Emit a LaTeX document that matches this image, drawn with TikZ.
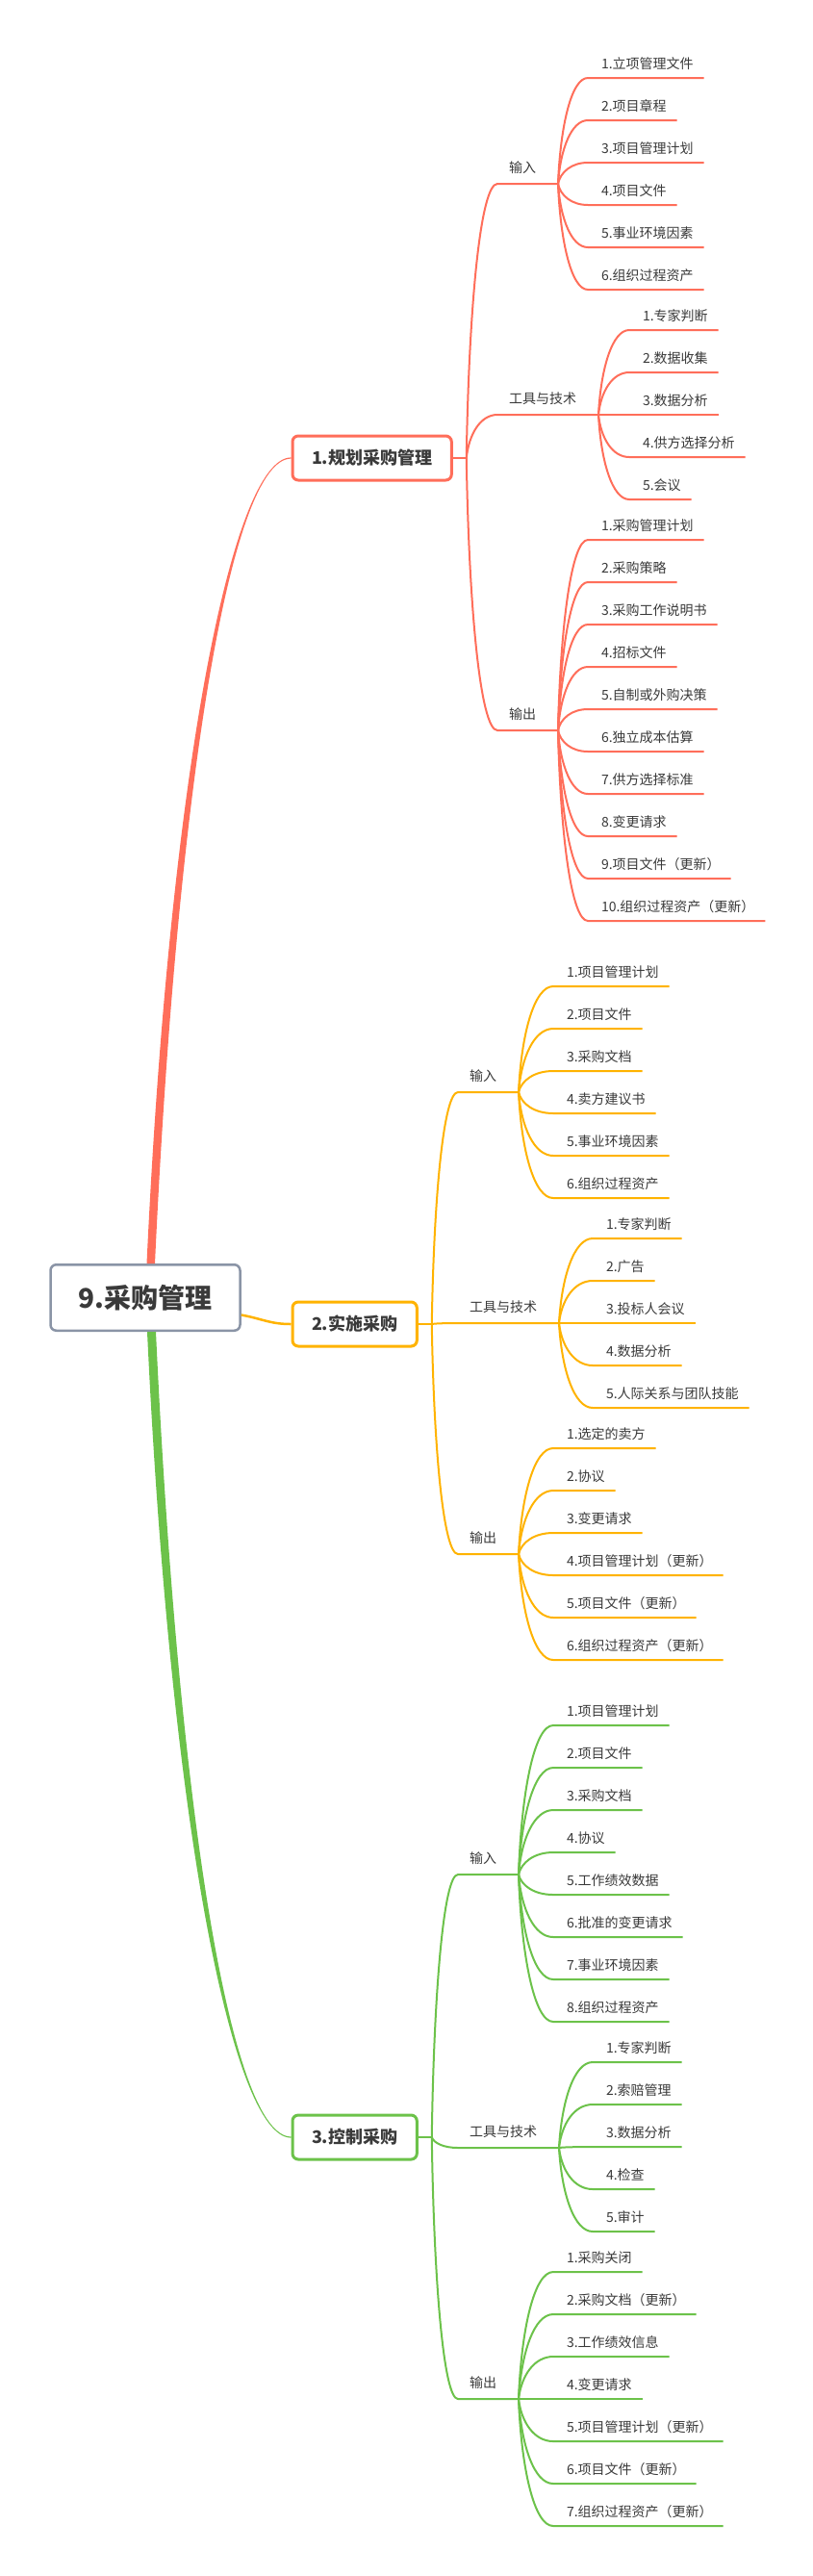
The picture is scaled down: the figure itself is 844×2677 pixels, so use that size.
\documentclass[tikz,border=0pt]{standalone}
\usepackage{fontspec}
\setmainfont{Noto Sans CJK SC}
\usetikzlibrary{calc}

\definecolor{redc}{HTML}{FF6E5A}
\definecolor{orangec}{HTML}{FFB300}
\definecolor{greenc}{HTML}{6CC24A}
\definecolor{rootgray}{HTML}{8A94A6}
\definecolor{textc}{HTML}{3A3A3A}

\tikzset{
  branch/.style={to path={let \p1=(\tikztostart), \p2=(\tikztotarget) in
      .. controls ({\x1+0.08*(\x2-\x1)},{\y1+0.55*(\y2-\y1)}) and ({\x1+0.45*(\x2-\x1)},\y2) .. (\tikztotarget) \tikztonodes}},
  rootbox/.style={draw=rootgray, line width=2.5pt, fill=white, rounded corners=6pt, text=textc,
      font=\fontsize{28pt}{32pt}\selectfont\bfseries, inner xsep=0pt, minimum width=197pt,
      minimum height=68.5pt, text height=23pt, text depth=1.7pt},
  mainbox/.style={line width=3pt, fill=white, rounded corners=6pt, text=textc, anchor=west,
      font=\fontsize{18pt}{22pt}\selectfont\bfseries, inner xsep=20pt, minimum height=46pt,
      text height=15pt, text depth=1.5pt},
  lbl/.style={anchor=south west, inner sep=0pt, text=textc, font=\fontsize{14pt}{16pt}\selectfont,
      text height=12pt},
  sub/.style={lbl, text depth=10.7pt,
      execute at begin node={\hspace*{11pt}}, execute at end node={\hspace*{22pt}}},
  leaf/.style={lbl, text depth=8.7pt,
      execute at begin node={\hspace*{13pt}}, execute at end node={\hspace*{10pt}}}
}

\begin{document}
\begin{tikzpicture}[x=1pt, y=-1pt]
  \useasboundingbox (0,0) rectangle (844,2677);
  \fill[white] (0,0) rectangle (844,2677);

  % main nodes
  \node[rootbox] (root) at (151,1348.5) {9.采购管理};
  \node[mainbox, draw=redc] (b1) at (302.5,476) {1.规划采购管理};
  \node[mainbox, draw=orangec] (b2) at (302.5,1376) {2.实施采购};
  \node[mainbox, draw=greenc] (b3) at (302.5,2221) {3.控制采购};

  % main branches
  \fill[redc] ([xshift=1.5pt]root.north) .. controls +(24,-512) and +(-61,0) .. ([yshift=0.6pt]b1.west)
    -- ([yshift=-0.6pt]b1.west) .. controls +(-61,0) and +(24,-512) .. ([xshift=10pt]root.north) -- cycle;
  \fill[greenc] ([xshift=2pt]root.south) .. controls +(24,512) and +(-61,0) .. ([yshift=-0.6pt]b3.west)
    -- ([yshift=0.6pt]b3.west) .. controls +(-61,0) and +(24,512) .. ([xshift=11pt]root.south) -- cycle;
  \draw[orangec, line width=2.5pt] ([yshift=-18pt]root.east) .. controls +(22,4) and +(-22,0) .. (b2.west);

  % 1. planning
  \begin{scope}[color=redc, line width=2pt, line join=round]
    \coordinate (b1j) at ([xshift=14pt]b1.east);
    \draw (b1.east) -- (b1j);
    \node[sub] (b1in) at (517,191) {输入};
    \node[sub] (b1tool) at (517,431) {工具与技术};
    \node[sub] (b1out) at (517,759) {输出};
    \foreach \s in {b1in,b1tool,b1out}
      \draw (b1j) to[branch] (\s.south west) -- (\s.south east);
    \foreach \txt [count=\i from 0] in {1.立项管理文件,2.项目章程,3.项目管理计划,4.项目文件,5.事业环境因素,6.组织过程资产} {
      \node[leaf] (b1in-\i) at (611,{81+44*\i}) {\txt};
      \draw (b1in.south east) to[branch] (b1in-\i.south west) -- (b1in-\i.south east);
    }
    \foreach \txt [count=\i from 0] in {1.专家判断,2.数据收集,3.数据分析,4.供方选择分析,5.会议} {
      \node[leaf] (b1tool-\i) at (654,{343+44*\i}) {\txt};
      \draw (b1tool.south east) to[branch] (b1tool-\i.south west) -- (b1tool-\i.south east);
    }
    \foreach \txt [count=\i from 0] in {1.采购管理计划,2.采购策略,3.采购工作说明书,4.招标文件,5.自制或外购决策,6.独立成本估算,7.供方选择标准,8.变更请求,9.项目文件（更新）,10.组织过程资产（更新）} {
      \node[leaf] (b1out-\i) at (611,{561+44*\i}) {\txt};
      \draw (b1out.south east) to[branch] (b1out-\i.south west) -- (b1out-\i.south east);
    }
  \end{scope}

  % 2. conduct
  \begin{scope}[color=orangec, line width=2pt, line join=round]
    \coordinate (b2j) at ([xshift=14pt]b2.east);
    \draw (b2.east) -- (b2j);
    \node[sub] (b2in) at (476,1135) {输入};
    \node[sub] (b2tool) at (476,1375) {工具与技术};
    \node[sub] (b2out) at (476,1615) {输出};
    \foreach \s in {b2in,b2tool,b2out}
      \draw (b2j) to[branch] (\s.south west) -- (\s.south east);
    \foreach \txt [count=\i from 0] in {1.项目管理计划,2.项目文件,3.采购文档,4.卖方建议书,5.事业环境因素,6.组织过程资产} {
      \node[leaf] (b2in-\i) at (575,{1025+44*\i}) {\txt};
      \draw (b2in.south east) to[branch] (b2in-\i.south west) -- (b2in-\i.south east);
    }
    \foreach \txt [count=\i from 0] in {1.专家判断,2.广告,3.投标人会议,4.数据分析,5.人际关系与团队技能} {
      \node[leaf] (b2tool-\i) at (616,{1287+44*\i}) {\txt};
      \draw (b2tool.south east) to[branch] (b2tool-\i.south west) -- (b2tool-\i.south east);
    }
    \foreach \txt [count=\i from 0] in {1.选定的卖方,2.协议,3.变更请求,4.项目管理计划（更新）,5.项目文件（更新）,6.组织过程资产（更新）} {
      \node[leaf] (b2out-\i) at (575,{1505+44*\i}) {\txt};
      \draw (b2out.south east) to[branch] (b2out-\i.south west) -- (b2out-\i.south east);
    }
  \end{scope}

  % 3. control
  \begin{scope}[color=greenc, line width=2pt, line join=round]
    \coordinate (b3j) at ([xshift=14pt]b3.east);
    \draw (b3.east) -- (b3j);
    \node[sub] (b3in) at (476,1948) {输入};
    \node[sub] (b3tool) at (476,2232) {工具与技术};
    \node[sub] (b3out) at (476,2493) {输出};
    \foreach \s in {b3in,b3tool,b3out}
      \draw (b3j) to[branch] (\s.south west) -- (\s.south east);
    \foreach \txt [count=\i from 0] in {1.项目管理计划,2.项目文件,3.采购文档,4.协议,5.工作绩效数据,6.批准的变更请求,7.事业环境因素,8.组织过程资产} {
      \node[leaf] (b3in-\i) at (575,{1793+44*\i}) {\txt};
      \draw (b3in.south east) to[branch] (b3in-\i.south west) -- (b3in-\i.south east);
    }
    \foreach \txt [count=\i from 0] in {1.专家判断,2.索赔管理,3.数据分析,4.检查,5.审计} {
      \node[leaf] (b3tool-\i) at (616,{2143+44*\i}) {\txt};
      \draw (b3tool.south east) to[branch] (b3tool-\i.south west) -- (b3tool-\i.south east);
    }
    \foreach \txt [count=\i from 0] in {1.采购关闭,2.采购文档（更新）,3.工作绩效信息,4.变更请求,5.项目管理计划（更新）,6.项目文件（更新）,7.组织过程资产（更新）} {
      \node[leaf] (b3out-\i) at (575,{2361+44*\i}) {\txt};
      \draw (b3out.south east) to[branch] (b3out-\i.south west) -- (b3out-\i.south east);
    }
  \end{scope}
\end{tikzpicture}
\end{document}
